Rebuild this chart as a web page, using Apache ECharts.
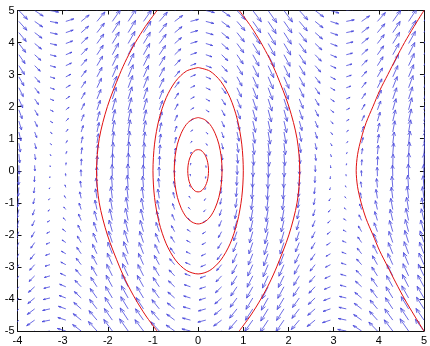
<!DOCTYPE html>
<html>
<head>
	<meta charset="utf-8">
	<title>quiver + contour</title>
	<script type="text/javascript" src="https://cdn.jsdelivr.net/npm/echarts@6/dist/echarts.min.js"></script>
	<style type="text/css">
		html, body { margin: 0; padding: 0; background: #fff; }
		#chart { width: 430px; height: 346px; }
	</style>
</head>
<body>
	<div id="chart"></div>
<script type="text/javascript">
	// grid columns / rows of the arrow field
	var xGrid = [-3.97, -3.62, -3.28, -2.93, -2.59, -2.24, -1.90, -1.55, -1.21, -0.86, -0.52, -0.17,
		0.17, 0.52, 0.86, 1.21, 1.55, 1.90, 2.24, 2.59, 2.93, 3.28, 3.62, 3.97, 4.31, 4.66, 5.00];
	var yGrid = [-5.00, -4.66, -4.31, -3.97, -3.62, -3.28, -2.93, -2.59, -2.24, -1.90, -1.55, -1.21, -0.86, -0.52, -0.17,
		0.17, 0.52, 0.86, 1.21, 1.55, 1.90, 2.24, 2.59, 2.93, 3.28, 3.62, 3.97, 4.31, 4.66, 5.00];
	// horizontal component of the arrows, one per row
	var rowSpeed = [-5.00, -4.66, -4.31, -3.97, -3.62, -3.28, -2.93, -2.59, -2.24, -1.90, -1.55, -1.21, -0.86, -0.52, -0.17,
		0.17, 0.52, 0.86, 1.21, 1.55, 1.90, 2.24, 2.59, 2.93, 3.28, 3.62, 3.97, 4.31, 4.66, 5.00];
	// vertical component of the arrows, one per column
	var colPush = [-7.3, -4.6, -1.3, 2.1, 5.3, 7.8, 9.5, 10.0, 9.3, 7.6, 4.9, 1.7,
		-1.7, -4.9, -7.6, -9.3, -10.0, -9.5, -7.8, -5.3, -2.1, 1.3, 4.6, 7.3, 9.2, 10.0, 9.6];
	var fieldMax = 11.2;      // largest arrow magnitude in the field
	var gridStep = 10 / 30;   // spacing used by the autoscale

	// contour lines, first quadrant, from top down to y = 0
	var innerX = [0, 0.06, 0.115, 0.163, 0.2, 0.222, 0.23];
	var innerY = [0.66, 0.64, 0.57, 0.467, 0.33, 0.171, 0];
	var midX = [0, 0.137, 0.265, 0.375, 0.459, 0.512, 0.53];
	var midY = [1.66, 1.60, 1.44, 1.17, 0.83, 0.43, 0];
	var outerX = [0, 0.259, 0.5, 0.707, 0.866, 0.966, 1.0];
	var outerY = [3.22, 3.11, 2.79, 2.28, 1.61, 0.83, 0];
	var bigX = [0.91, 1.17, 1.39, 1.58, 1.74, 2.01, 2.19, 2.25];
	var bigY = [5, 4.5, 4, 3.5, 3, 2, 1, 0];
	var rightX = [5.0, 4.78, 4.57, 4.38, 4.2, 4.02, 3.87, 3.72, 3.61, 3.53, 3.5];
	var rightY = [5, 4.5, 4, 3.5, 3, 2.5, 2, 1.5, 1, 0.5, 0];

	var xTicks = [-4, 5, 1];
	var yTicks = [-5, 5, 1];

	// top half + mirrored bottom half of one side
	function halfCurve(xs, ys, sx) {
		var pts = [];
		for (var i = 0; i < xs.length; i++) pts.push([sx * xs[i], ys[i]]);
		for (var j = xs.length - 2; j >= 0; j--) pts.push([sx * xs[j], -ys[j]]);
		return pts;
	}
	function closedLoop(xs, ys) {
		var right = halfCurve(xs, ys, 1);
		var left = halfCurve(xs, ys, -1).reverse();
		return right.concat(left.slice(1));
	}

	var arrows = [];
	for (var j = 0; j < yGrid.length; j++) {
		for (var i = 0; i < xGrid.length; i++) {
			arrows.push([xGrid[i], yGrid[j], rowSpeed[j], colPush[i]]);
		}
	}
	var scale = 0.9 * Math.sqrt(2) * gridStep / fieldMax;

	function renderArrow(params, api) {
		var x = api.value(0), y = api.value(1);
		var u = api.value(2) * scale, v = api.value(3) * scale;
		var a = 0.33, b = 0.33;
		var tip = [x + u, y + v];
		var h1 = [x + u - a * (u + b * v), y + v - a * (v - b * u)];
		var h2 = [x + u - a * (u - b * v), y + v - a * (v + b * u)];
		var st = { stroke: '#4646dc', lineWidth: 0.8, fill: null };
		return {
			type: 'group',
			children: [
				{ type: 'polyline', shape: { points: [api.coord([x, y]), api.coord(tip)] }, style: st },
				{ type: 'polyline', shape: { points: [api.coord(h1), api.coord(tip), api.coord(h2)] }, style: st }
			]
		};
	}

	function contour(pts) {
		return {
			type: 'line', data: pts, smooth: 0.3, showSymbol: false, silent: true, clip: true,
			lineStyle: { color: '#e01010', width: 1 }, z: 3
		};
	}

	function axisX(pos, labels) {
		return {
			type: 'value', min: xTicks[0], max: xTicks[1], interval: xTicks[2], position: pos,
			axisLine: { show: true, onZero: false, lineStyle: { color: '#111', width: 1 } },
			axisTick: { show: true, inside: true, length: 4, lineStyle: { color: '#111' } },
			axisLabel: { show: labels, color: '#000', fontSize: 11, fontFamily: 'Liberation Sans', margin: 4 },
			splitLine: { show: false }
		};
	}
	function axisY(pos, labels) {
		return {
			type: 'value', min: yTicks[0], max: yTicks[1], interval: yTicks[2], position: pos,
			axisLine: { show: true, onZero: false, lineStyle: { color: '#111', width: 1 } },
			axisTick: { show: true, inside: true, length: 4, lineStyle: { color: '#111' } },
			axisLabel: { show: labels, color: '#000', fontSize: 11, fontFamily: 'Liberation Sans', margin: 3 },
			splitLine: { show: false }
		};
	}

	var myChart = echarts.init(document.getElementById('chart'));
	var option = {
		animation: false,
		backgroundColor: '#fff',
		grid: { left: 17.5, right: 3, top: 10.5, bottom: 13 },
		xAxis: [axisX('bottom', true), axisX('top', false)],
		yAxis: [axisY('left', true), axisY('right', false)],
		series: [
			{ type: 'custom', data: arrows, renderItem: renderArrow, clip: true, silent: true, z: 2 },
			contour(closedLoop(innerX, innerY)),
			contour(closedLoop(midX, midY)),
			contour(closedLoop(outerX, outerY)),
			contour(halfCurve(bigX, bigY, 1)),
			contour(halfCurve(bigX, bigY, -1)),
			contour(halfCurve(rightX, rightY, 1))
		]
	};
	myChart.setOption(option);
</script>
</body>
</html>
